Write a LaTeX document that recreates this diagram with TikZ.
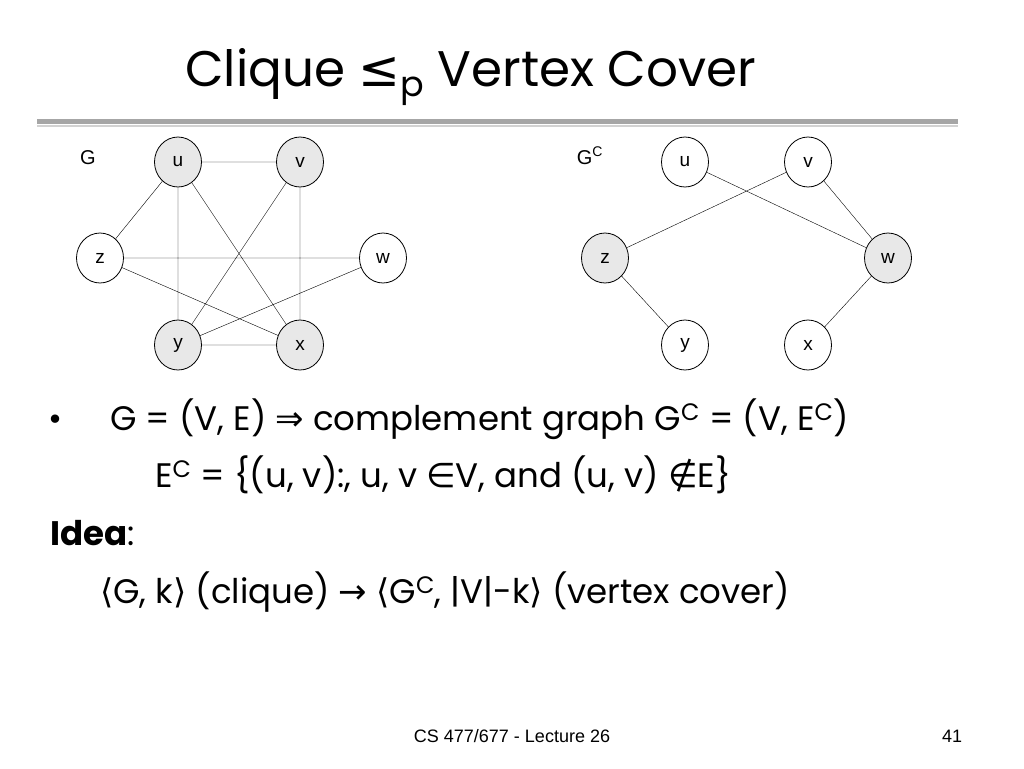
\documentclass[tikz,border=0pt]{standalone}
\usepackage{fontspec}
\setmainfont{Poppins}
\newfontfamily\symfont{DejaVu Sans}
\newfontfamily\arialfont{Liberation Sans}
\usetikzlibrary{shapes.geometric}
\newcommand{\sy}[1]{{\symfont #1}}
\newcommand{\supc}{\textsuperscript{C}}

\begin{document}
\begin{tikzpicture}[x=1pt, y=-1pt,
  vtx/.style={ellipse, draw, thick, minimum width=47pt, minimum height=50pt,
    inner sep=0pt, font=\arialfont\fontsize{19}{21}\selectfont},
  inclq/.style={vtx, fill=gray!18},
  body/.style={anchor=base west, inner sep=0pt, font=\fontsize{34}{38}\selectfont}]
  \useasboundingbox (0,0) rectangle (1024,768);

  % title
  \node[anchor=base west, inner sep=0pt, font=\fontsize{50}{56}\selectfont] (title) at (185,86)
    {Clique \sy{≤}\textsubscript{p} Vertex Cover};
  \draw[line width=5pt, gray!70] (37,121) -- (958,121);
  \draw[line width=1.5pt, gray!35] (37,126) -- (958,126);

  % graph G
  \node[anchor=base, font=\arialfont\fontsize{20}{22}\selectfont] (g) at (88,164) {G};
  \node[inclq] (u) at (178,162) {u};
  \node[inclq] (v) at (300,162) {v};
  \node[vtx] (z) at (100,258) {z};
  \node[vtx] (w) at (383,258) {w};
  \node[inclq] (y) at (178,345) {y};
  \node[inclq] (x) at (300,345) {x};
  \draw (u) -- (v) (u) -- (z) (u) -- (y) (u) -- (x) (v) -- (y) (v) -- (x)
    (z) -- (w) (z) -- (x) (w) -- (y) (y) -- (x);

  % graph G^C
  \node[anchor=base, font=\arialfont\fontsize{20}{22}\selectfont] (gc) at (590,164) {G\supc};
  \node[vtx] (cu) at (685,162) {u};
  \node[vtx] (cv) at (808,162) {v};
  \node[inclq] (cz) at (605,258) {z};
  \node[inclq] (cw) at (888,258) {w};
  \node[vtx] (cy) at (685,345) {y};
  \node[vtx] (cx) at (808,345) {x};
  \draw (cz) -- (cv) (cu) -- (cw) (cv) -- (cw) (cz) -- (cy) (cw) -- (cx);

  % text
  \node[body] (bul) at (48,430) {•};
  \node[body] (l1) at (110,430) {G = (V, E) \sy{⇒} complement graph G\supc{} = (V, E\supc)};
  \node[body] (l2) at (155,487) {E\supc{} = \{(u, v):, u, v \sy{∈}V, and (u, v) \sy{∉}E\}};
  \node[body] (idea) at (50,545) {\textbf{Idea}:};
  \node[body] (l4) at (100,603) {\sy{⟨}G, k\sy{⟩} (clique) \sy{→} \sy{⟨}G\supc, |V|-k\sy{⟩} (vertex cover)};

  % footer
  \node[anchor=base, font=\arialfont\fontsize{18}{20}\selectfont] (foot) at (512,742) {CS 477/677 - Lecture 26};
  \node[anchor=base, font=\arialfont\fontsize{18}{20}\selectfont] (page) at (952,742) {41};
\end{tikzpicture}
\end{document}
